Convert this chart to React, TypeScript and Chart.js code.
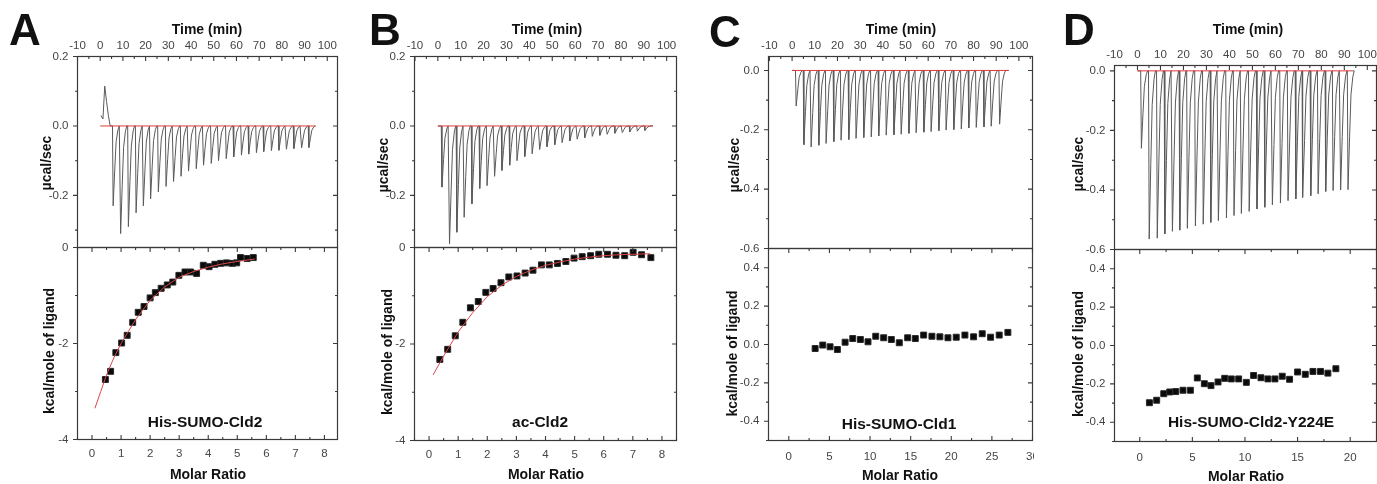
import React, { useEffect, useRef } from 'react';
import { Chart, registerables } from 'chart.js';
Chart.register(...registerables);

const FONT = "'Liberation Sans', Arial, Helvetica, sans-serif";

// ---------- tick label values ----------
const timeTicks = [-10, 0, 10, 20, 30, 40, 50, 60, 70, 80, 90, 100];
const powerTicksAB = [-0.2, 0, 0.2];
const powerTicksCD = [-0.6, -0.4, -0.2, 0];
const heatTicksAB = [-4, -2, 0];
const heatTicksCD = [-0.4, -0.2, 0, 0.2, 0.4];
const ratioTicksAB = [0, 1, 2, 3, 4, 5, 6, 7, 8];
const ratioTicksC = [0, 5, 10, 15, 20, 25, 30];
const ratioTicksD = [0, 5, 10, 15, 20];

// ---------- Panel A (His-SUMO-Cld2) ----------
const preTimeA = [0.3, 1.2, 2.0, 2.8, 3.6, 4.4];
const prePowerA = [0.03, 0.02, 0.115, 0.07, 0.03, 0.0];
const injTimeA = [5.4, 8.7, 12.1, 15.5, 18.7, 21.9, 25.3, 28.7, 32.0, 35.3, 38.6, 42.0, 45.2, 48.6, 51.8, 55.2, 58.5, 61.9, 65.1, 68.5, 71.7, 75.1, 78.4, 81.7, 85.0, 88.4, 91.6];
const injPeakA = [-0.23, -0.31, -0.29, -0.25, -0.23, -0.21, -0.19, -0.174, -0.16, -0.145, -0.13, -0.123, -0.113, -0.108, -0.1, -0.094, -0.089, -0.084, -0.081, -0.077, -0.074, -0.071, -0.07, -0.067, -0.065, -0.063, -0.062];
const baseEndA = 95;
const ratioA = [0.46, 0.64, 0.82, 1.02, 1.21, 1.4, 1.59, 1.79, 2.0, 2.18, 2.38, 2.59, 2.78, 2.99, 3.2, 3.39, 3.6, 3.83, 4.03, 4.23, 4.43, 4.63, 4.83, 4.98, 5.11, 5.34, 5.55];
const heatA = [-2.75, -2.58, -2.19, -1.99, -1.83, -1.56, -1.35, -1.23, -1.05, -0.94, -0.85, -0.78, -0.72, -0.58, -0.51, -0.51, -0.54, -0.37, -0.4, -0.35, -0.33, -0.32, -0.33, -0.32, -0.21, -0.23, -0.21];
const fitRatioA = [0.1, 0.3, 0.5, 0.75, 1.0, 1.25, 1.5, 1.75, 2.0, 2.5, 3.0, 3.5, 4.0, 4.5, 5.0, 5.6];
const fitHeatA = [-3.35, -3.0, -2.65, -2.3, -2.0, -1.75, -1.5, -1.3, -1.1, -0.82, -0.62, -0.5, -0.41, -0.34, -0.29, -0.24];

// ---------- Panel B (ac-Cld2) ----------
const injTimeB = [1.5, 4.8, 8.0, 11.2, 14.6, 18.0, 21.2, 24.5, 27.7, 31.1, 34.3, 37.7, 40.9, 44.2, 47.4, 50.8, 54.0, 57.4, 60.6, 63.9, 67.2, 70.5, 73.7, 77.1, 80.3, 83.6, 86.9, 90.2];
const injPeakB = [-0.176, -0.34, -0.306, -0.263, -0.224, -0.18, -0.172, -0.145, -0.128, -0.113, -0.1, -0.088, -0.08, -0.068, -0.06, -0.054, -0.048, -0.043, -0.038, -0.034, -0.03, -0.027, -0.024, -0.021, -0.019, -0.017, -0.015, -0.013];
const baseEndB = 94;
const ratioB = [0.37, 0.64, 0.9, 1.16, 1.42, 1.69, 1.95, 2.2, 2.47, 2.74, 3.02, 3.3, 3.57, 3.86, 4.13, 4.41, 4.7, 4.98, 5.26, 5.55, 5.83, 6.13, 6.42, 6.72, 7.01, 7.3, 7.62];
const heatB = [-2.32, -2.11, -1.83, -1.55, -1.25, -1.12, -0.93, -0.85, -0.73, -0.61, -0.59, -0.53, -0.47, -0.36, -0.36, -0.33, -0.29, -0.22, -0.19, -0.17, -0.14, -0.14, -0.16, -0.17, -0.1, -0.15, -0.21];
const fitRatioB = [0.14, 0.5, 1.0, 1.5, 2.0, 2.5, 3.0, 3.5, 4.0, 4.5, 5.0, 5.5, 6.0, 6.5, 7.0, 7.6];
const fitHeatB = [-2.64, -2.25, -1.75, -1.35, -1.02, -0.78, -0.6, -0.47, -0.37, -0.3, -0.24, -0.2, -0.17, -0.15, -0.14, -0.13];

// ---------- Panel C (His-SUMO-Cld1) ----------
const injTimeC = [1.5, 4.9, 8.1, 11.5, 14.7, 18.1, 21.3, 24.7, 27.9, 31.3, 34.6, 37.9, 41.2, 44.6, 47.8, 51.2, 54.4, 57.8, 61.0, 64.4, 67.6, 71.0, 74.3, 77.6, 80.9, 84.3, 87.5, 91.2];
const injPeakC = [-0.12, -0.25, -0.258, -0.252, -0.246, -0.24, -0.235, -0.233, -0.229, -0.226, -0.224, -0.221, -0.218, -0.217, -0.215, -0.212, -0.21, -0.208, -0.206, -0.203, -0.201, -0.199, -0.197, -0.194, -0.192, -0.19, -0.188, -0.181];
const baseEndC = 95.5;
const ratioC = [3.24, 4.18, 5.08, 5.98, 6.93, 7.87, 8.81, 9.75, 10.7, 11.68, 12.62, 13.6, 14.63, 15.57, 16.6, 17.62, 18.6, 19.59, 20.61, 21.68, 22.75, 23.81, 24.84, 25.9, 26.97];
const heatC = [-0.021, -0.003, -0.012, -0.026, 0.012, 0.031, 0.026, 0.014, 0.043, 0.035, 0.026, 0.009, 0.035, 0.031, 0.049, 0.043, 0.04, 0.035, 0.038, 0.049, 0.04, 0.056, 0.038, 0.049, 0.063];

// ---------- Panel D (His-SUMO-Cld2-Y224E) ----------
const injTimeD = [1.4, 4.8, 8.3, 11.6, 14.9, 18.1, 21.4, 24.9, 28.3, 31.6, 34.9, 38.4, 41.7, 44.9, 48.3, 51.7, 55.1, 58.4, 61.9, 65.2, 68.6, 71.7, 75.1, 78.3, 81.6, 84.8, 88.1, 91.3];
const injPeakD = [-0.26, -0.565, -0.562, -0.548, -0.539, -0.535, -0.529, -0.521, -0.515, -0.509, -0.503, -0.494, -0.486, -0.479, -0.472, -0.464, -0.458, -0.45, -0.444, -0.436, -0.43, -0.425, -0.419, -0.413, -0.405, -0.402, -0.4, -0.399];
const baseEndD = 93.5;
const ratioD = [0.92, 1.61, 2.28, 2.85, 3.42, 4.11, 4.81, 5.47, 6.14, 6.77, 7.44, 8.07, 8.7, 9.4, 10.13, 10.82, 11.52, 12.18, 12.85, 13.54, 14.24, 15.0, 15.73, 16.46, 17.18, 17.88, 18.64];
const heatD = [-0.298, -0.285, -0.251, -0.242, -0.24, -0.233, -0.233, -0.169, -0.199, -0.209, -0.19, -0.171, -0.174, -0.174, -0.192, -0.156, -0.168, -0.174, -0.174, -0.16, -0.176, -0.138, -0.15, -0.135, -0.135, -0.144, -0.121];

// shape of one injection peak (time offset in min, fraction of peak depth)
const SPIKE_DT = [0, 0.3, 1.0, 1.6, 2.4, 3.0];
const SPIKE_FRAC = [0, 1, 0.55, 0.2, 0.05, 0];

type Pt = { x: number; y: number };
const zip = (xs: number[], ys: number[]): Pt[] => xs.map((x, i) => ({ x, y: ys[i] }));

function thermogram(times: number[], peaks: number[], end: number, preT?: number[], preP?: number[]): Pt[] {
  const pts: Pt[] = preT && preP ? zip(preT, preP) : [{ x: 0, y: 0 }];
  times.forEach((t, i) => {
    SPIKE_DT.forEach((dt, k) => pts.push({ x: t + dt, y: peaks[i] * SPIKE_FRAC[k] }));
  });
  pts.push({ x: end, y: 0 });
  return pts;
}

interface Axis { min: number; max: number; ticks: number[]; major: number; minor: number; dec: number; pad: number }
interface Txt { s: string; x: number; y: number; size: number; rot?: boolean; align?: CanvasTextAlign; base?: CanvasTextBaseline }
interface Sub {
  l: number; r: number; t: number; b: number;
  cl: number; ct: number; cr: number; cb: number;
  xPos: 'top' | 'bottom';
  x: Axis; y: Axis;
  datasets: any[];
  texts: Txt[];
  clipR?: number;
}

const traceDs = (pts: Pt[], end: number) => [
  { data: [{ x: 0, y: 0 }, { x: end, y: 0 }], showLine: true, borderColor: '#e0393b', borderWidth: 1, pointRadius: 0 },
  { data: pts, showLine: true, borderColor: '#5a5a5a', borderWidth: 1, pointRadius: 0 },
];
const isoDs = (xs: number[], ys: number[], fx?: number[], fy?: number[]) => {
  const out: any[] = [];
  if (fx && fy) out.push({ data: zip(fx, fy), showLine: true, borderColor: '#d8474a', borderWidth: 1, pointRadius: 0 });
  out.push({ data: zip(xs, ys), showLine: false, pointStyle: 'rect', pointRadius: 4.2, backgroundColor: '#0a0a0a', borderColor: '#2a2a2a', borderWidth: 1 });
  return out;
};

function topSub(p: { l: number; r: number; t: number; b: number }, x: Axis, y: Axis, datasets: any[], texts: Txt[], clipR?: number): Sub {
  return { ...p, cl: Math.floor(p.l) - 80, ct: 0, cr: Math.ceil(p.r) + 14, cb: Math.ceil(p.b) + 10, xPos: 'top', x, y, datasets, texts, clipR };
}
function botSub(p: { l: number; r: number; t: number; b: number }, x: Axis, y: Axis, datasets: any[], texts: Txt[], clipR?: number): Sub {
  return { ...p, cl: Math.floor(p.l) - 80, ct: Math.floor(p.t) - 10, cr: Math.ceil(p.r) + 14, cb: 484, xPos: 'bottom', x, y, datasets, texts, clipR };
}

const timeAx = (min: number, max: number): Axis => ({ min, max, ticks: timeTicks, major: 10, minor: 5, dec: 0, pad: 3.6 });

const SUBS: Sub[] = [
  // ---- A ----
  topSub({ l: 77.5, r: 337.5, t: 56.5, b: 247.5 }, timeAx(-10, 104.5),
    { min: -0.35, max: 0.2, ticks: powerTicksAB, major: 0.2, minor: 0.1, dec: 1, pad: 9 },
    traceDs(thermogram(injTimeA, injPeakA, baseEndA, preTimeA, prePowerA), baseEndA),
    [
      { s: 'A', x: 9, y: 45, size: 44, align: 'left', base: 'alphabetic' },
      { s: 'Time (min)', x: 207, y: 30, size: 14 },
      { s: 'µcal/sec', x: 47, y: 163, size: 14, rot: true },
    ]),
  botSub({ l: 77.5, r: 337.5, t: 247.5, b: 439.5 },
    { min: -0.5, max: 8.45, ticks: ratioTicksAB, major: 1, minor: 0.5, dec: 0, pad: 7 },
    { min: -4, max: 0, ticks: heatTicksAB, major: 2, minor: 1, dec: 0, pad: 9 },
    isoDs(ratioA, heatA, fitRatioA, fitHeatA),
    [
      { s: 'kcal/mole of ligand', x: 50, y: 351, size: 14, rot: true },
      { s: 'Molar Ratio', x: 208, y: 475, size: 14 },
      { s: 'His-SUMO-Cld2', x: 205, y: 423, size: 15.5 },
    ]),
  // ---- B ----
  topSub({ l: 414.5, r: 676.5, t: 56.5, b: 247.5 }, timeAx(-10.2, 104.3),
    { min: -0.35, max: 0.2, ticks: powerTicksAB, major: 0.2, minor: 0.1, dec: 1, pad: 9 },
    traceDs(thermogram(injTimeB, injPeakB, baseEndB), baseEndB),
    [
      { s: 'B', x: 369, y: 45, size: 44, align: 'left', base: 'alphabetic' },
      { s: 'Time (min)', x: 547, y: 30, size: 14 },
      { s: 'µcal/sec', x: 384, y: 165, size: 14, rot: true },
    ]),
  botSub({ l: 414.5, r: 676.5, t: 247.5, b: 440.5 },
    { min: -0.5, max: 8.5, ticks: ratioTicksAB, major: 1, minor: 0.5, dec: 0, pad: 7.5 },
    { min: -4, max: 0, ticks: heatTicksAB, major: 2, minor: 1, dec: 0, pad: 9 },
    isoDs(ratioB, heatB, fitRatioB, fitHeatB),
    [
      { s: 'kcal/mole of ligand', x: 388, y: 352, size: 14, rot: true },
      { s: 'Molar Ratio', x: 546, y: 475, size: 14 },
      { s: 'ac-Cld2', x: 540, y: 423, size: 15.5 },
    ]),
  // ---- C ----
  topSub({ l: 768.5, r: 1032.5, t: 56.5, b: 248.5 }, timeAx(-10.4, 106),
    { min: -0.6, max: 0.047, ticks: powerTicksCD, major: 0.2, minor: 0.1, dec: 1, pad: 9 },
    traceDs(thermogram(injTimeC, injPeakC, baseEndC), baseEndC),
    [
      { s: 'C', x: 709, y: 46.5, size: 44, align: 'left', base: 'alphabetic' },
      { s: 'Time (min)', x: 901, y: 30, size: 14 },
      { s: 'µcal/sec', x: 735, y: 165, size: 14, rot: true },
    ], 1034),
  botSub({ l: 768.5, r: 1032.5, t: 248.5, b: 440.5 },
    { min: -2.5, max: 30, ticks: ratioTicksC, major: 5, minor: 2.5, dec: 0, pad: 9 },
    { min: -0.5, max: 0.5, ticks: heatTicksCD, major: 0.2, minor: 0.1, dec: 1, pad: 9 },
    isoDs(ratioC, heatC),
    [
      { s: 'kcal/mole of ligand', x: 733, y: 353.5, size: 14, rot: true },
      { s: 'Molar Ratio', x: 900, y: 476.5, size: 14 },
      { s: 'His-SUMO-Cld1', x: 899, y: 425, size: 15.5 },
    ], 1034),
  // ---- D ----
  topSub({ l: 1114.5, r: 1376.5, t: 65.5, b: 249.5 }, timeAx(-10, 104),
    { min: -0.6, max: 0.018, ticks: powerTicksCD, major: 0.2, minor: 0.1, dec: 1, pad: 9 },
    traceDs(thermogram(injTimeD, injPeakD, baseEndD), baseEndD),
    [
      { s: 'D', x: 1063, y: 45, size: 44, align: 'left', base: 'alphabetic' },
      { s: 'Time (min)', x: 1248, y: 30, size: 14 },
      { s: 'µcal/sec', x: 1079.5, y: 164, size: 14, rot: true },
    ]),
  botSub({ l: 1114.5, r: 1376.5, t: 249.5, b: 441.5 },
    { min: -2.4, max: 22.5, ticks: ratioTicksD, major: 5, minor: 2.5, dec: 0, pad: 9.5 },
    { min: -0.5, max: 0.5, ticks: heatTicksCD, major: 0.2, minor: 0.1, dec: 1, pad: 9 },
    isoDs(ratioD, heatD),
    [
      { s: 'kcal/mole of ligand', x: 1079, y: 354, size: 14, rot: true },
      { s: 'Molar Ratio', x: 1246, y: 477, size: 14 },
      { s: 'His-SUMO-Cld2-Y224E', x: 1251, y: 423, size: 15.5 },
    ]),
];

function tickVals(ax: Axis): [number, boolean][] {
  const out: [number, boolean][] = [];
  const s = Math.ceil(ax.min / ax.minor - 1e-6);
  const e = Math.floor(ax.max / ax.minor + 1e-6);
  for (let k = s; k <= e; k++) {
    const v = k * ax.minor;
    const q = v / ax.major;
    out.push([v, Math.abs(q - Math.round(q)) < 1e-6]);
  }
  return out;
}

function build(canvas: HTMLCanvasElement, sp: Sub): Chart {
  const yW = sp.l - sp.cl;
  const padR = sp.cr - sp.r;
  const isTop = sp.xPos === 'top';
  const xH = isTop ? sp.t - sp.ct : sp.cb - sp.b;
  const padT = isTop ? 0 : sp.t - sp.ct;
  const padB = isTop ? sp.cb - sp.b : 0;
  const zero = (s: any) => { s.paddingLeft = 0; s.paddingRight = 0; s.paddingTop = 0; s.paddingBottom = 0; };
  const tickFont = { family: FONT, size: 11.5 };

  const decor = {
    id: 'decor',
    afterDraw(chart: any) {
      const { ctx, chartArea: a, scales } = chart;
      const xs = scales.x, ys = scales.y;
      ctx.save();
      ctx.strokeStyle = '#3a3a3a';
      ctx.lineWidth = 1.2;
      ctx.strokeRect(a.left, a.top, a.right - a.left, a.bottom - a.top);
      ctx.lineWidth = 1.1;
      ctx.beginPath();
      const MAJ = 4.5, MIN = 2.5;
      for (const [v, maj] of tickVals(sp.y)) {
        const py = ys.getPixelForValue(v);
        const L = maj ? MAJ : MIN;
        ctx.moveTo(a.left - L, py); ctx.lineTo(a.left, py);
        ctx.moveTo(a.right, py); ctx.lineTo(a.right - L, py);
      }
      for (const [v, maj] of tickVals(sp.x)) {
        const px = xs.getPixelForValue(v);
        const L = maj ? MAJ : MIN;
        ctx.moveTo(px, a.top); ctx.lineTo(px, a.top + L);
        if (!isTop) { ctx.moveTo(px, a.bottom); ctx.lineTo(px, a.bottom - L); }
      }
      ctx.stroke();
      ctx.fillStyle = '#111';
      for (const t of sp.texts) {
        ctx.save();
        ctx.font = `bold ${t.size}px ${FONT}`;
        ctx.textAlign = t.align || 'center';
        ctx.textBaseline = t.base || 'middle';
        ctx.translate(t.x - sp.cl, t.y - sp.ct);
        if (t.rot) ctx.rotate(-Math.PI / 2);
        ctx.fillText(t.s, 0, 0);
        ctx.restore();
      }
      ctx.restore();
    },
  };

  return new Chart(canvas, {
    type: 'scatter',
    data: { datasets: sp.datasets },
    options: {
      responsive: false,
      maintainAspectRatio: false,
      animation: false,
      events: [],
      layout: { padding: { left: 0, right: padR, top: padT, bottom: padB } },
      plugins: { legend: { display: false }, tooltip: { enabled: false } },
      scales: {
        x: {
          type: 'linear', position: sp.xPos, min: sp.x.min, max: sp.x.max,
          grid: { display: false, drawTicks: false }, border: { display: false },
          ticks: { autoSkip: false, maxRotation: 0, minRotation: 0, includeBounds: false, padding: sp.x.pad, color: '#454545', font: tickFont,
            callback: (v: any) => Number(v).toFixed(sp.x.dec) },
          afterBuildTicks: (s: any) => { s.ticks = sp.x.ticks.map((v) => ({ value: v })); },
          afterFit: (s: any) => { s.height = xH; zero(s); },
        },
        y: {
          type: 'linear', position: 'left', min: sp.y.min, max: sp.y.max,
          grid: { display: false, drawTicks: false }, border: { display: false },
          ticks: { autoSkip: false, includeBounds: false, padding: sp.y.pad, color: '#454545', font: tickFont,
            callback: (v: any) => Number(v).toFixed(sp.y.dec) },
          afterBuildTicks: (s: any) => { s.ticks = sp.y.ticks.map((v) => ({ value: v })); },
          afterFit: (s: any) => { s.width = yW; zero(s); },
        },
      },
    } as any,
    plugins: [decor],
  });
}

export default function App() {
  const refs = useRef<(HTMLCanvasElement | null)[]>([]);
  useEffect(() => {
    document.body.style.margin = '0';
    const charts = SUBS.map((sp, i) => build(refs.current[i] as HTMLCanvasElement, sp));
    return () => charts.forEach((c) => c.destroy());
  }, []);
  return (
    <div style={{ position: 'fixed', left: 0, top: 0, width: 1377, height: 484, background: '#fff', overflow: 'hidden' }}>
      {SUBS.map((sp, i) => (
        <canvas
          key={i}
          ref={(el) => { refs.current[i] = el; }}
          width={sp.cr - sp.cl}
          height={sp.cb - sp.ct}
          style={{
            position: 'absolute', left: sp.cl, top: sp.ct, width: sp.cr - sp.cl, height: sp.cb - sp.ct,
            clipPath: sp.clipR ? `inset(0px ${sp.cr - sp.clipR}px 0px 0px)` : undefined,
          }}
        />
      ))}
    </div>
  );
}
